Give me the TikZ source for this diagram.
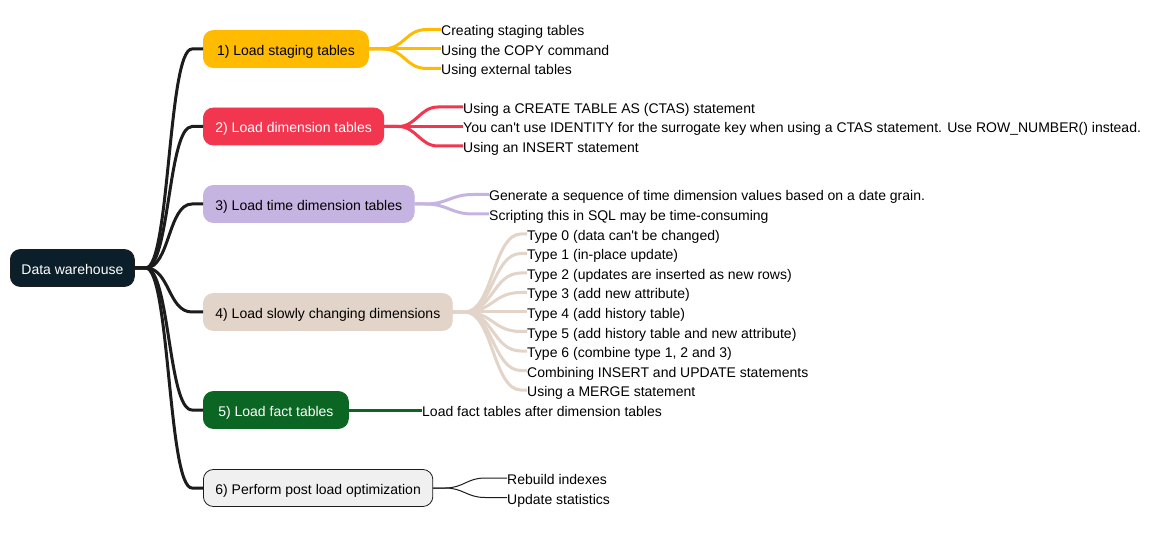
\documentclass[tikz,border=0pt]{standalone}
\usepackage{fontspec}
\setmainfont{Liberation Sans}
\definecolor{rootfill}{HTML}{0B1F2B}
\definecolor{linkcolor}{HTML}{1C1C1C}
\definecolor{goldfill}{HTML}{FFBB00}
\definecolor{redfill}{HTML}{F2364F}
\definecolor{lilacfill}{HTML}{C5B3E1}
\definecolor{sandfill}{HTML}{E2D4C8}
\definecolor{greenfill}{HTML}{0B6623}
\definecolor{greyfill}{HTML}{F0F0F0}
\tikzset{
  txt/.style={font=\fontsize{14pt}{17pt}\selectfont, text height=13pt, text depth=0pt},
  topic/.style={txt, rounded corners=10pt, anchor=west, inner xsep=12pt,
    inner ysep=0pt, minimum height=37pt, line width=0.8pt},
  leaf/.style={txt, anchor=west, inner sep=0pt, text=black},
  trunk/.style={draw=linkcolor, line width=3pt},
  twig/.style={line width=3pt}
}
\begin{document}
\begin{tikzpicture}[x=1pt,y=-1pt]
  \useasboundingbox[fill=white] (0,0) rectangle (1154,537);

  % Root and main topics.
  \node[topic, fill=rootfill, draw=linkcolor, text=white, inner xsep=11pt] (root) at (10,268) {Data warehouse};
  \node[topic, fill=goldfill, draw=goldfill, minimum width=165pt] (staging) at (203,49) {1) Load staging tables};
  \node[topic, fill=redfill, draw=redfill, text=white] (dimension) at (203,126.5) {2) Load dimension tables};
  \node[topic, fill=lilacfill, draw=lilacfill] (timedim) at (203,204) {3) Load time dimension tables};
  \node[topic, fill=sandfill, draw=sandfill] (scd) at (203,312) {4) Load slowly changing dimensions};
  \node[topic, fill=greenfill, draw=greenfill, text=white, minimum width=145pt] (fact) at (203,410) {5) Load fact tables};
  \node[topic, fill=greyfill, draw=linkcolor] (postload) at (203,488) {6) Perform post load optimization};

  % Leaves.
  \node[leaf] (st1) at (441,29.5) {Creating staging tables};
  \node[leaf] (st2) at (441,49) {Using the COPY command};
  \node[leaf] (st3) at (441,68.5) {Using external tables};

  \node[leaf] (dm1) at (463,107) {Using a CREATE TABLE AS (CTAS) statement};
  \node[leaf] (dm2) at (463,126.5) {You can\textquotesingle t use IDENTITY for the surrogate key when using a CTAS statement. Use ROW\_NUMBER() instead.};
  \node[leaf] (dm3) at (463,146) {Using an INSERT statement};

  \node[leaf] (td1) at (489,194.5) {Generate a sequence of time dimension values based on a date grain.};
  \node[leaf] (td2) at (489,214) {Scripting this in SQL may be time-consuming};

  \node[leaf] (sc1) at (527,234) {Type 0 (data can\textquotesingle t be changed)};
  \node[leaf] (sc2) at (527,253.5) {Type 1 (in-place update)};
  \node[leaf] (sc3) at (527,273) {Type 2 (updates are inserted as new rows)};
  \node[leaf] (sc4) at (527,292.5) {Type 3 (add new attribute)};
  \node[leaf] (sc5) at (527,312) {Type 4 (add history table)};
  \node[leaf] (sc6) at (527,331.5) {Type 5 (add history table and new attribute)};
  \node[leaf] (sc7) at (527,351) {Type 6 (combine type 1, 2 and 3)};
  \node[leaf] (sc8) at (527,370.5) {Combining INSERT and UPDATE statements};
  \node[leaf] (sc9) at (527,390) {Using a MERGE statement};

  \node[leaf] (ft1) at (422,410) {Load fact tables after dimension tables};

  \node[leaf] (po1) at (507,478) {Rebuild indexes};
  \node[leaf] (po2) at (507,497.5) {Update statistics};

  % Root branches.
  \foreach \t in {staging,dimension,timedim,scd,fact,postload}
    \draw[trunk] (root.east) -- ++(11,0) .. controls +(24,0) and +(-24,0) .. ([xshift=-11pt]\t.west) -- (\t.west);

  % Topic branches.
  \foreach \l in {st1,st2,st3}
    \draw[twig, draw=goldfill] (staging.east) -- ++(14,0) .. controls +(22,0) and +(-22,0) .. ([xshift=-14pt]\l.west) -- (\l.west);
  \foreach \l in {dm1,dm2,dm3}
    \draw[twig, draw=redfill] (dimension.east) -- ++(14,0) .. controls +(18,0) and +(-18,0) .. ([xshift=-25pt]\l.west) -- (\l.west);
  \foreach \l in {td1,td2}
    \draw[twig, draw=lilacfill] (timedim.east) -- ++(11,0) .. controls +(22,0) and +(-22,0) .. ([xshift=-16pt]\l.west) -- (\l.west);
  \foreach \l in {sc1,sc2,sc3,sc4,sc5,sc6,sc7,sc8,sc9}
    \draw[twig, draw=sandfill] (scd.east) -- ++(12,0) .. controls +(28,0) and +(-28,0) .. ([xshift=-6pt]\l.west) -- (\l.west);
  \draw[twig, draw=greenfill] (fact.east) -- (ft1.west);
  \foreach \l in {po1,po2}
    \draw[draw=linkcolor, line width=1pt] (postload.east) -- ++(12,0) .. controls +(18,0) and +(-18,0) .. ([xshift=-22pt]\l.west) -- (\l.west);

\end{tikzpicture}
\end{document}
